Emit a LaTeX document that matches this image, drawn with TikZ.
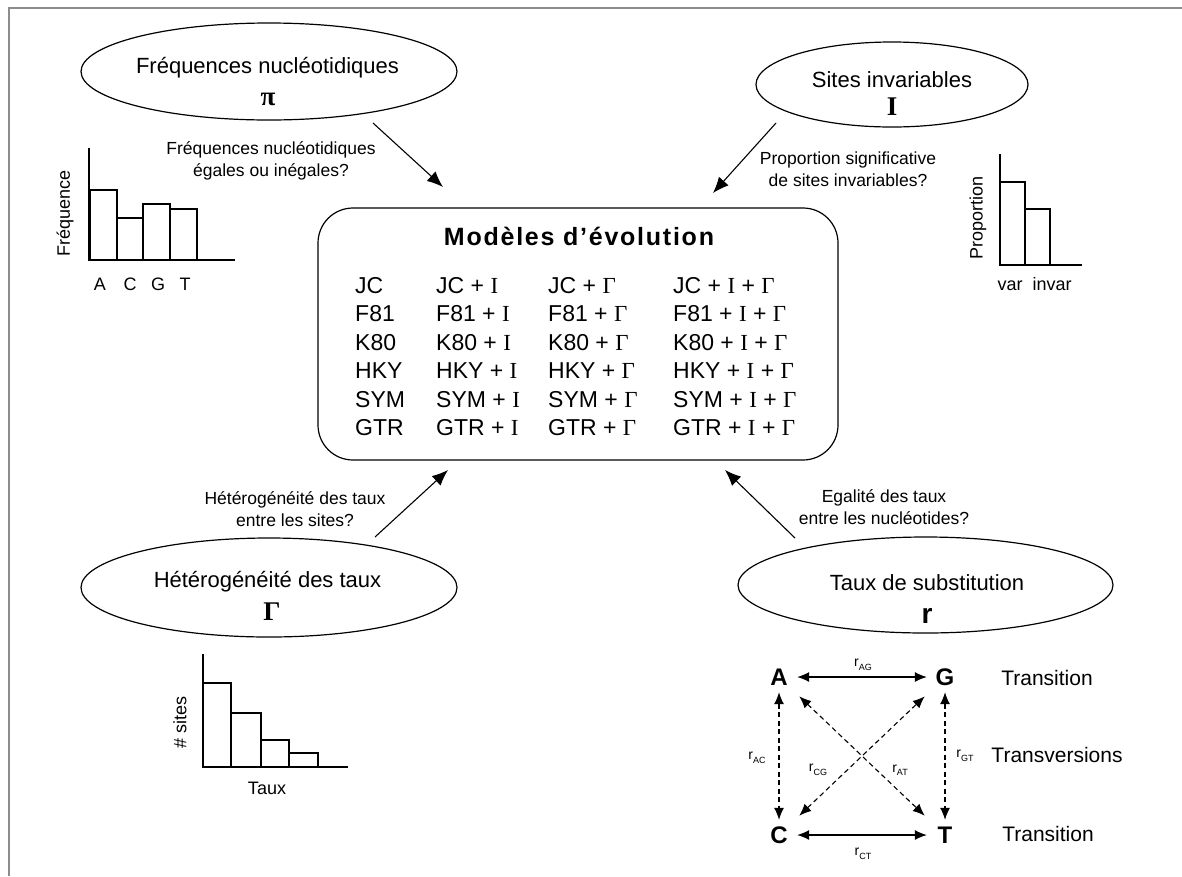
\documentclass[tikz,border=0pt]{standalone}
\usepackage{fontspec}
\usepackage{graphicx}
\setmainfont{Liberation Sans}
\newfontfamily\seriffont{Liberation Serif}
\usetikzlibrary{shapes.geometric,arrows.meta}
\newcommand\setfs[1]{\fontsize{#1}{#1}\selectfont}
\newcommand\mI{{\seriffont I}}
\newcommand\mG{{\seriffont Γ}}
\newcommand\rsub[1]{r\raisebox{-3.5pt}{\fontsize{9}{9}\selectfont #1}}
\begin{document}
\begin{tikzpicture}[x=1pt,y=-1pt,
  ell/.style={draw, ellipse, line width=1.2pt, inner sep=0pt},
  etitle/.style={font=\setfs{22}, anchor=base, inner sep=0pt},
  esym/.style={font=\setfs{27}\seriffont\bfseries, anchor=base, inner sep=0pt},
  quest/.style={font=\fontsize{17.5}{22}\selectfont, align=center, inner sep=0pt},
  arr/.style={line width=1.1pt, -{Latex[length=16pt,width=13pt]}},
  model/.style={font=\setfs{23}, anchor=base west, inner sep=0pt},
  axis/.style={line width=1.4pt},
  bar/.style={line width=1.8pt},
  lab/.style={font=\setfs{18}, inner sep=0pt},
  nuc/.style={font=\setfs{24}\bfseries, inner sep=0pt, minimum width=36pt, minimum height=30pt},
  sarr/.style={line width=1.1pt, {Latex[length=12pt,width=10pt]}-{Latex[length=12pt,width=10pt]}},
  darr/.style={sarr, dash pattern=on 5pt off 3.5pt},
  rlab/.style={font=\setfs{14}, inner sep=0pt},
  trans/.style={font=\setfs{21}, inner sep=0pt}
]
\useasboundingbox (0,0) rectangle (1182,876);
% frame
\draw[line width=1.5pt, black!45] (9,876) -- (9,8) -- (1182,8);

% central box
\node[draw, line width=1.2pt, rounded corners=35pt, minimum width=520pt, minimum height=252pt] (box) at (578,334) {};
\node[font=\setfs{25}\bfseries\addfontfeature{LetterSpace=7}, anchor=base, inner sep=0pt] (boxtitle) at (579,245) {Modèles d’évolution};
\foreach \n [count=\i] in {JC,F81,K80,HKY,SYM,GTR}{
  \pgfmathsetmacro\yb{293.5+28.4*(\i-1)}
  \node[model] (m\i a) at (355,\yb) {\n};
  \node[model] (m\i b) at (436,\yb) {\n{} + \mI};
  \node[model] (m\i c) at (548,\yb) {\n{} + \mG};
  \node[model] (m\i d) at (673,\yb) {\n{} + \mI{} + \mG};
}

% top-left ellipse
\node[ell, minimum width=376pt, minimum height=97pt] (eP) at (269,71.5) {};
\node[etitle] (ePt) at (267.5,73.3) {Fréquences nucléotidiques};
\node[esym] (ePs) at (268,105) {π};
\node[quest] (qP) at (271,161) {Fréquences nucléotidiques\\égales ou inégales?};
\coordinate (aP1) at (373,123);
\coordinate (aP2) at (443,187);
\draw[arr] (aP1) -- (aP2);

% top-right ellipse
\node[ell, minimum width=272pt, minimum height=85pt] (eI) at (892,84.5) {};
\node[etitle] (eIt) at (892,87) {Sites invariables};
\node[esym] (eIs) at (892,115) {I};
\node[quest] (qI) at (848,169) {Proportion significative\\de sites invariables?};
\coordinate (aI1) at (776,123);
\coordinate (aI2) at (713,193);
\draw[arr] (aI1) -- (aI2);

% bottom-left ellipse
\node[ell, minimum width=376pt, minimum height=99pt] (eGm) at (269,587.5) {};
\node[etitle] (eGt) at (267.5,587) {Hétérogénéité des taux};
\node[esym] (eGs) at (272,620) {Γ};
\node[quest] (qG) at (295,509) {Hétérogénéité des taux\\entre les sites?};
\coordinate (aG1) at (375,537);
\coordinate (aG2) at (448,470);
\draw[arr] (aG1) -- (aG2);

% bottom-right ellipse
\node[ell, minimum width=375pt, minimum height=96pt] (eR) at (925.5,585) {};
\node[etitle] (eRt) at (927,590) {Taux de substitution};
\node[font=\setfs{28}\bfseries, anchor=base, inner sep=0pt] (eRs) at (927,623) {r};
\node[quest] (qR) at (884,507.5) {Egalité des taux\\entre les nucléotides?};
\coordinate (aR1) at (795,538);
\coordinate (aR2) at (725,470);
\draw[arr] (aR1) -- (aR2);

% histogram: nucleotide frequencies
\draw[axis] (89,148) -- (89,260) -- (235,260);
\draw[bar] (90,260) rectangle (117,190);
\draw[bar] (117,260) rectangle (143,218);
\draw[bar] (143,260) rectangle (170,204);
\draw[bar] (170,260) rectangle (197,209);
\node[lab, anchor=base] (hA) at (100,290) {A};
\node[lab, anchor=base] (hC) at (130,290) {C};
\node[lab, anchor=base] (hG) at (158,290) {G};
\node[lab, anchor=base] (hT) at (185,290) {T};
\node[lab, rotate=90] (hF) at (65,213) {Fréquence};

% histogram: invariable sites
\draw[axis] (1000,154) -- (1000,265) -- (1082,265);
\draw[bar] (1000,265) rectangle (1025,182);
\draw[bar] (1025,265) rectangle (1050,209);
\node[lab, anchor=base] (hvar) at (1010,290) {var};
\node[lab, anchor=base] (hinvar) at (1052,290) {invar};
\node[lab, rotate=90] (hProp) at (978,218) {Proportion};

% histogram: rate heterogeneity
\draw[axis] (203,654) -- (203,767) -- (348,767);
\draw[bar] (203,767) rectangle (231,683);
\draw[bar] (231,767) rectangle (261,713);
\draw[bar] (261,767) rectangle (289,740);
\draw[bar] (289,767) rectangle (318,753);
\node[lab, rotate=90] (hS) at (180,722) {\# sites};
\node[lab] (hTaux) at (267,788) {Taux};

% substitution scheme
\node[nuc] (nA) at (779,677) {A};
\node[nuc] (nG) at (945,677) {G};
\node[nuc] (nC) at (779,835) {C};
\node[nuc] (nT) at (945,835) {T};
\draw[sarr] (nA) -- (nG);
\draw[sarr] (nC) -- (nT);
\draw[darr] (nA) -- (nC);
\draw[darr] (nG) -- (nT);
\draw[darr, shorten <=6pt, shorten >=6pt] (nA) -- (nT);
\draw[darr, shorten <=6pt, shorten >=6pt] (nC) -- (nG);
\node[rlab] (lAG) at (863,665) {\rsub{AG}};
\node[rlab] (lCT) at (863,854) {\rsub{CT}};
\node[rlab] (lAC) at (757,758) {\rsub{AC}};
\node[rlab] (lGT) at (965,756) {\rsub{GT}};
\node[rlab] (lCG) at (818,770) {\rsub{CG}};
\node[rlab] (lAT) at (900,770) {\rsub{AT}};
\node[trans] (t1) at (1047,678) {Transition};
\node[trans] (t2) at (1057,755) {Transversions};
\node[trans] (t3) at (1048,834) {Transition};
\end{tikzpicture}
\end{document}
